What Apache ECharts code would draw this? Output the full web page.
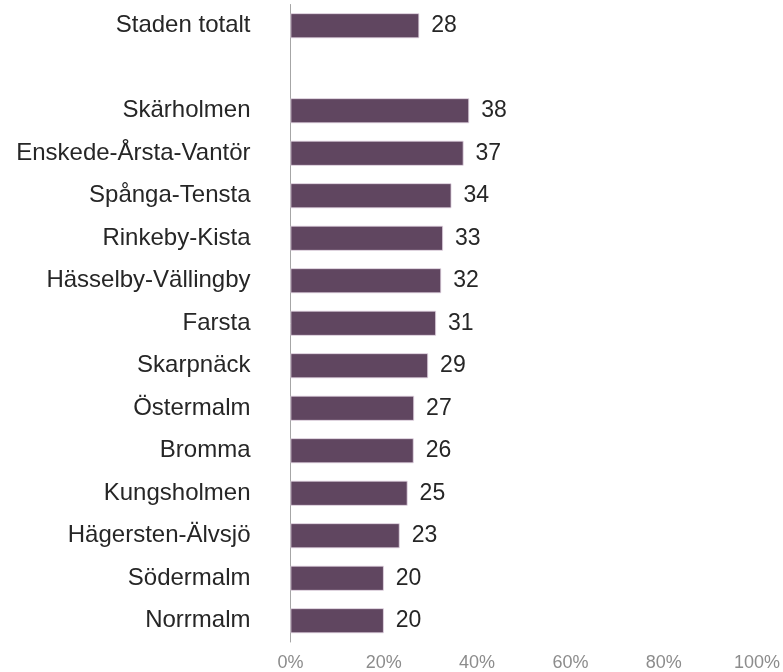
<!DOCTYPE html>
<html>
<head>
<meta charset="utf-8">
<script src="https://cdn.jsdelivr.net/npm/echarts@6/dist/echarts.min.js"></script>
<style>
html,body{margin:0;padding:0;background:#fff;}
#chart{width:783px;height:672px;}
</style>
</head>
<body>
<div id="chart"></div>
<script>
var categories = ['Staden totalt', '', 'Skärholmen', 'Enskede-Årsta-Vantör', 'Spånga-Tensta', 'Rinkeby-Kista', 'Hässelby-Vällingby', 'Farsta', 'Skarpnäck', 'Östermalm', 'Bromma', 'Kungsholmen', 'Hägersten-Älvsjö', 'Södermalm', 'Norrmalm'];
var values = [27.6, null, 38.3, 37.1, 34.5, 32.7, 32.3, 31.2, 29.5, 26.5, 26.4, 25.1, 23.4, 20.0, 20.0];
var valueLabels = ['28', '', '38', '37', '34', '33', '32', '31', '29', '27', '26', '25', '23', '20', '20'];
var xTicks = [0, 20, 40, 60, 80, 100];

var chart = echarts.init(document.getElementById('chart'), null, {renderer: 'canvas'});
var fontFam = '"Liberation Sans", Arial, sans-serif';
chart.setOption({
  animation: false,
  grid: {left: 290.5, right: 25.5, top: 4.5, bottom: 29, containLabel: false},
  xAxis: {
    type: 'value',
    min: xTicks[0],
    max: xTicks[xTicks.length - 1],
    interval: 20,
    axisLine: {show: false},
    axisTick: {show: false},
    splitLine: {show: false},
    axisLabel: {
      color: '#8c8c8c',
      fontSize: 18,
      fontFamily: fontFam,
      margin: 12,
      formatter: function (v) { return v + '%'; }
    }
  },
  yAxis: {
    type: 'category',
    inverse: true,
    data: categories,
    axisLine: {show: true, lineStyle: {color: '#a6a6a6', width: 1}},
    axisTick: {show: false},
    axisLabel: {color: '#262626', fontSize: 24, fontFamily: fontFam, margin: 40}
  },
  series: [{
    type: 'bar',
    data: values,
    barWidth: 25,
    itemStyle: {color: '#604660', borderColor: '#e3d6e3', borderWidth: 0.8},
    label: {
      show: true,
      position: 'right',
      distance: 12,
      color: '#262626',
      fontSize: 23,
      fontFamily: fontFam,
      formatter: function (p) { return valueLabels[p.dataIndex]; }
    }
  }]
});
</script>
</body>
</html>
